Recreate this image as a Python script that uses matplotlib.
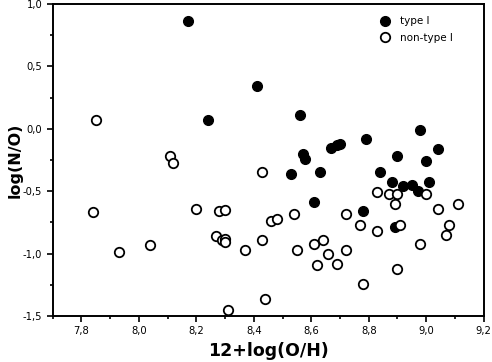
import matplotlib
matplotlib.use("Agg")
import matplotlib.pyplot as plt
from matplotlib.ticker import MultipleLocator, FuncFormatter

# type I (filled)
type1_x = [8.17, 8.24, 8.41, 8.56, 8.57, 8.58, 8.67, 8.69, 8.70, 8.79, 8.98, 9.04, 8.90,
           9.00, 8.53, 8.63, 8.84, 8.88, 8.92, 8.95, 8.97, 9.01, 8.78, 8.89, 8.61]
type1_y = [0.86, 0.07, 0.34, 0.11, -0.20, -0.24, -0.15, -0.13, -0.12, -0.08, -0.01, -0.16, -0.22,
           -0.26, -0.36, -0.35, -0.35, -0.43, -0.46, -0.45, -0.50, -0.43, -0.66, -0.79, -0.59]

# non-type I (open)
other_x = [7.85, 8.11, 8.12, 8.43, 7.84, 7.93, 8.04, 8.20, 8.28, 8.30, 8.27, 8.29, 8.30, 8.30,
           8.37, 8.31, 8.43, 8.46, 8.48, 8.54, 8.55, 8.61, 8.64, 8.66, 8.62, 8.44, 8.72, 8.77,
           8.83, 8.83, 8.87, 8.90, 8.89, 8.91, 9.00, 9.04, 9.11, 9.08, 9.07, 8.98, 8.90, 8.78,
           8.72, 8.69]
other_y = [0.07, -0.22, -0.27, -0.35, -0.67, -0.99, -0.93, -0.64, -0.66, -0.65, -0.86, -0.89, -0.88, -0.91,
           -0.97, -1.45, -0.89, -0.74, -0.72, -0.68, -0.97, -0.92, -0.89, -1.00, -1.09, -1.36, -0.68, -0.77,
           -0.82, -0.51, -0.52, -0.52, -0.60, -0.77, -0.52, -0.64, -0.60, -0.77, -0.85, -0.92, -1.12, -1.24,
           -0.97, -1.08]

fig = plt.figure(figsize=(4.92, 3.62), dpi=100)
ax = fig.add_axes([0.107, 0.127, 0.876, 0.862])

ax.plot(type1_x, type1_y, "o", color="black", ms=7, mec="black", label="type I")
ax.plot(other_x, other_y, "o", mfc="white", mec="black", mew=1.3, ms=6.8, label="non-type I")

ax.set_xlim(7.7, 9.2)
ax.set_ylim(-1.5, 1.0)
ax.xaxis.set_major_locator(MultipleLocator(0.2))
ax.xaxis.set_minor_locator(MultipleLocator(0.1))
ax.yaxis.set_major_locator(MultipleLocator(0.5))
ax.yaxis.set_minor_locator(MultipleLocator(0.25))
fmt = FuncFormatter(lambda v, p: ("%.1f" % v).replace(".", ","))
ax.xaxis.set_major_formatter(fmt)
ax.yaxis.set_major_formatter(fmt)

ax.tick_params(which="both", direction="out", width=1.2, labelsize=7.2, colors="black")
ax.tick_params(which="major", length=4)
ax.tick_params(which="minor", length=2.5)
for s in ax.spines.values():
    s.set_linewidth(1.4)

ax.set_xlabel("12+log(O/H)", fontsize=12.5, fontweight="bold", labelpad=4)
ax.set_ylabel("log(N/O)", fontsize=11.5, fontweight="bold")
ax.yaxis.set_label_coords(-0.07, 0.5)

ax.legend(loc="upper right", bbox_to_anchor=(0.95, 0.99), frameon=False, fontsize=7.5,
          handletextpad=0.8, labelspacing=0.6, handlelength=1.2)

fig.savefig("out.png", dpi=100)
